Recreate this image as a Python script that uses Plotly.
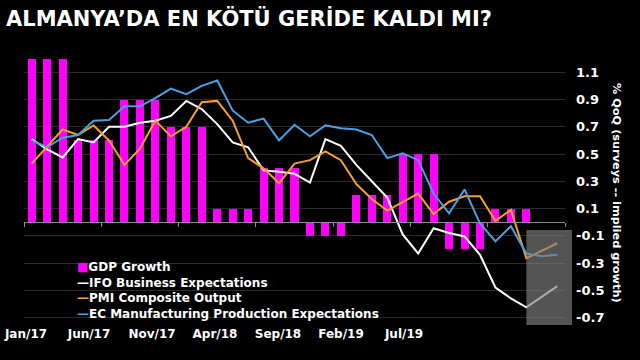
import plotly.graph_objects as go

# ---------------- data ----------------
months = ["Jan/17", "Feb/17", "Mar/17", "Apr/17", "May/17", "Jun/17", "Jul/17", "Aug/17", "Sep/17",
          "Oct/17", "Nov/17", "Dec/17", "Jan/18", "Feb/18", "Mar/18", "Apr/18", "May/18", "Jun/18",
          "Jul/18", "Aug/18", "Sep/18", "Oct/18", "Nov/18", "Dec/18", "Jan/19", "Feb/19", "Mar/19",
          "Apr/19", "May/19", "Jun/19", "Jul/19", "Aug/19", "Sep/19", "Oct/19", "Nov/19"]

gdp_growth = [1.2, 1.2, 1.2, 0.6, 0.6, 0.6, 0.9, 0.9, 0.9, 0.7, 0.7, 0.7,
              0.1, 0.1, 0.1, 0.4, 0.4, 0.4, -0.1, -0.1, -0.1, 0.2, 0.2, 0.2,
              0.5, 0.5, 0.5, -0.2, -0.2, -0.2, 0.1, 0.1, 0.1, None, None]

ifo_expectations = [0.61, 0.535, 0.475, 0.61, 0.585, 0.70, 0.70, 0.73, 0.745, 0.78, 0.89, 0.83,
                    0.72, 0.585, 0.55, 0.38, 0.37, 0.355, 0.29, 0.61, 0.56, 0.42, 0.30, 0.18,
                    -0.09, -0.23, -0.045, -0.08, -0.105, -0.24, -0.48, -0.56, -0.625, -0.55, -0.47]

pmi_composite = [0.43, 0.555, 0.68, 0.64, 0.71, 0.60, 0.42, 0.54, 0.745, 0.63, 0.70, 0.88,
                 0.89, 0.745, 0.47, 0.395, 0.285, 0.43, 0.455, 0.52, 0.455, 0.28, 0.17, 0.085,
                 0.145, 0.21, 0.06, 0.15, 0.19, 0.19, 0.01, 0.09, -0.265, -0.21, -0.155]

ec_production = [0.60, 0.55, 0.62, 0.64, 0.745, 0.75, 0.85, 0.85, 0.91, 0.98, 0.94, 1.0,
                 1.04, 0.82, 0.73, 0.76, 0.60, 0.715, 0.63, 0.71, 0.69, 0.68, 0.64, 0.47,
                 0.505, 0.455, 0.21, 0.065, 0.24, -0.01, -0.14, -0.03, -0.23, -0.25, -0.24]

series_names = ["GDP Growth", "IFO Business Expectations", "PMI Composite Output",
                "EC Manufacturing Production Expectations"]
x_tick_labels = ["Jan/17", "Jun/17", "Nov/17", "Apr/18", "Sep/18", "Feb/19", "Jul/19"]
y_tick_values = [1.1, 0.9, 0.7, 0.5, 0.3, 0.1, -0.1, -0.3, -0.5, -0.7]
forecast_start = "Sep/19"

# ---------------- style / layout constants ----------------
W, H = 640, 360
ML, MR, MT, MB = 24, 75, 55, 35
X_RANGE = [-0.5, len(months) - 0.5]
Y_RANGE = [-0.755, 1.227]
LABEL_AXIS_RANGE = [-0.159, 42.78]
FONT = "DejaVu Sans"
C_GDP, C_IFO, C_PMI, C_EC = "#ff00ff", "#ffffff", "#f5a02c", "#4c9fe0"
colors = [C_GDP, C_IFO, C_PMI, C_EC]

plot_w = W - ML - MR
plot_h = H - MT - MB


def px_to_paper_x(px):
    return (px - ML) / plot_w


def px_to_paper_y(py):
    return (H - MB - py) / plot_h


x = list(range(len(months)))
tick_step = 5
label_positions = [tick_step * k for k in range(len(x_tick_labels))]

fig = go.Figure()
fig.add_trace(go.Bar(x=x, y=gdp_growth, name=series_names[0], marker_color=C_GDP,
                     marker_line_width=0, width=0.52))
for vals, name, col in zip([ifo_expectations, pmi_composite, ec_production], series_names[1:], colors[1:]):
    fig.add_trace(go.Scatter(x=x, y=vals, name=name, mode="lines",
                             line=dict(color=col, width=2)))
# empty helper trace so the label axis is drawn (no visible marks)
fig.add_trace(go.Scatter(x=label_positions, y=[None] * len(label_positions), xaxis="x2",
                         mode="markers", marker=dict(opacity=0), hoverinfo="skip",
                         showlegend=False))

zero_frac = (0 - Y_RANGE[0]) / (Y_RANGE[1] - Y_RANGE[0])

fig.update_layout(
    width=W, height=H,
    margin=dict(l=ML, r=MR, t=MT, b=MB, autoexpand=False),
    paper_bgcolor="black", plot_bgcolor="black",
    showlegend=False,
    bargap=0,
    font=dict(family=FONT, color="white", size=12, weight="bold"),
    title=dict(text="ALMANYA’DA EN KÖTÜ GERİDE KALDI MI?",
               font=dict(family=FONT, size=21, color="white", weight="bold"),
               x=6 / W, xanchor="left", xref="container",
               y=1 - 19 / H, yanchor="middle", yref="container"),
    xaxis=dict(range=X_RANGE, anchor="free", position=zero_frac,
               showline=True, linecolor="#8c8c8c", linewidth=1,
               ticks="outside", ticklen=4, tickcolor="#8c8c8c",
               tickvals=[X_RANGE[0] + tick_step * k for k in range(8)],
               showticklabels=False, showgrid=False, zeroline=False),
    xaxis2=dict(overlaying="x", anchor="y", side="bottom",
                range=LABEL_AXIS_RANGE,
                tickvals=label_positions,
                ticktext=x_tick_labels, ticks="", showline=False, showgrid=False,
                zeroline=False, automargin=False,
                tickfont=dict(family=FONT, size=12, color="white", weight="bold")),
    yaxis=dict(side="right", range=Y_RANGE, tickvals=y_tick_values,
               ticktext=[f"{v:.1f}" for v in y_tick_values],
               tickfont=dict(family=FONT, size=13, color="white", weight="bold"),
               showgrid=True, gridcolor="#2a2a2a", gridwidth=1, automargin=False,
               zeroline=False, showline=False, ticks="", ticklabelstandoff=10),
)

# shaded forecast area
fs = months.index(forecast_start)
fig.add_shape(type="rect", layer="above",
              xref="paper", yref="y",
              x0=(fs - X_RANGE[0]) / (X_RANGE[1] - X_RANGE[0]), x1=px_to_paper_x(572),
              y0=Y_RANGE[0], y1=-0.057,
              fillcolor="rgba(128,128,128,0.66)", line=dict(width=0))

# legend (one multi-line text block)
symbols = ["■", "—", "—", "—"]
legend_text = "<br>".join(f"<span style='color:{col}'>{sym}</span>{name}"
                          for name, col, sym in zip(series_names, colors, symbols))
fig.add_annotation(xref="paper", yref="paper", x=px_to_paper_x(75), y=px_to_paper_y(290.2),
                   xanchor="left", yanchor="middle", showarrow=False, align="left",
                   text=legend_text,
                   font=dict(family=FONT, size=12, color="white", weight="bold"))

# right axis title
fig.add_annotation(xref="paper", yref="paper", x=px_to_paper_x(617), y=px_to_paper_y(193),
                   xanchor="center", yanchor="middle", showarrow=False, textangle=90,
                   text="% QoQ (surveys -- implied growth)",
                   font=dict(family=FONT, size=11.3, color="white", weight="bold"))

fig.write_html("out.html", config={"displayModeBar": False},
               post_script="document.body.style.margin='0';document.body.style.background='black';")
